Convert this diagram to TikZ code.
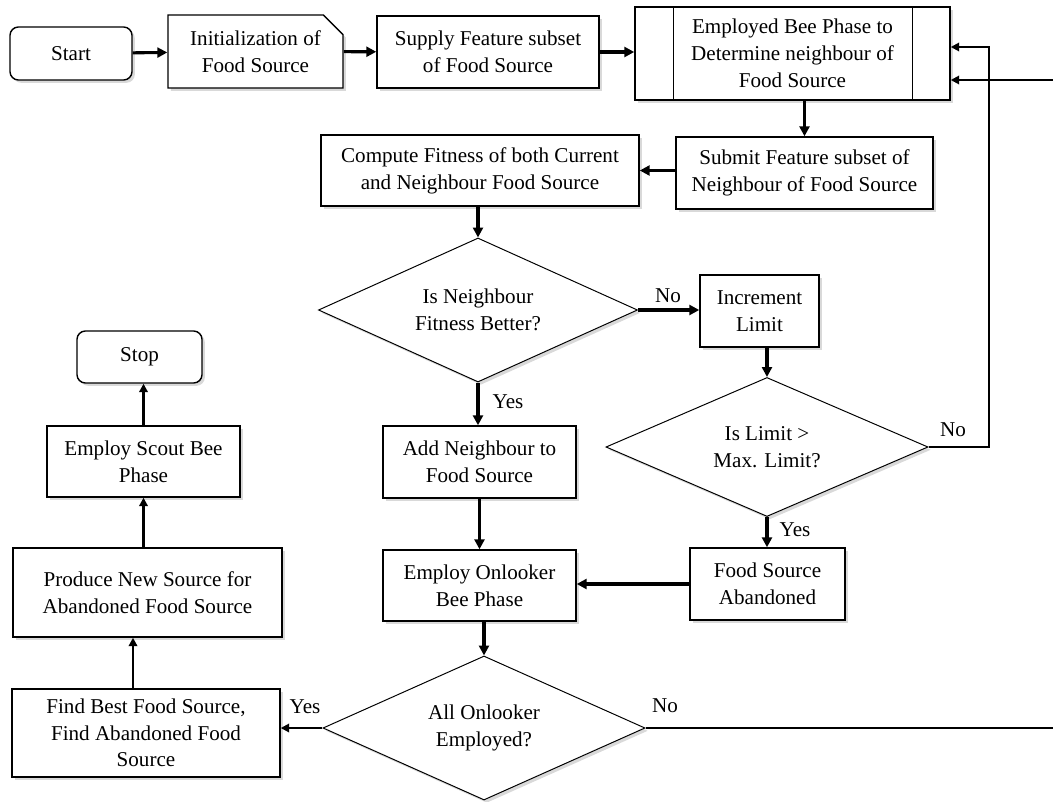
\documentclass[tikz,border=0pt]{standalone}
\usepackage{fontspec}
\setmainfont{Liberation Serif}
\usetikzlibrary{arrows.meta,shapes.geometric,shapes.misc,shadows,calc}

\begin{document}
\begin{tikzpicture}[x = 0.025cm, y = -0.025cm,
	font = \fontsize{15}{19}\selectfont,
	shade/.style = {drop shadow = {opacity = 0.3, shadow xshift = 2pt, shadow yshift = -2pt}},
	box/.style = {draw, line width = 1pt, fill = white, align = center, inner sep = 2pt, shade},
	term/.style = {box, rounded corners = 6pt},
	dec/.style = {draw, diamond, shape aspect = 2.2, line width = 0.7pt, fill = white, align = center, inner sep = 0pt, shade},
	arr/.style = {-{Triangle[length = 7pt, width = 7pt]}, line width = 2.2pt},
	larr/.style = {-{Triangle[length = 6pt, width = 6pt]}, line width = 1.5pt},
	back/.style = {-{Triangle[length = 6pt, width = 6pt]}, line width = 1.4pt}]
	\useasboundingbox (0,0) rectangle (1053,802);
	
	% top row
	\node[term, minimum width = 3.05cm, minimum height = 1.325cm](start) at (71,53.5) {Start};
	\node[box, chamfered rectangle, chamfered rectangle corners = north east,
		chamfered rectangle xsep = 7pt, chamfered rectangle ysep = 7pt,
		minimum width = 4.375cm, minimum height = 1.825cm](init) at (255.5,51.5) {Initialization of\\Food Source};
	\node[box, minimum width = 5.55cm, minimum height = 1.8cm](sup) at (488,52) {Supply Feature subset\\of Food Source};
	\node[box, minimum width = 7.875cm, minimum height = 2.325cm](emp) at (792.5,53.5) {Employed Bee Phase to\\Determine neighbour of\\Food Source};
	\draw[line width = 1pt] ($(emp.north west)+(39,0)$) -- ($(emp.south west)+(39,0)$);
	\draw[line width = 1pt] ($(emp.north east)+(-38,0)$) -- ($(emp.south east)+(-38,0)$);
	
	\node[box, minimum width = 6.425cm, minimum height = 1.8cm](sub) at (804.5,173) {Submit Feature subset of\\Neighbour of Food Source};
	\node[box, minimum width = 7.95cm, minimum height = 1.775cm](comp) at (480,170.5) {Compute Fitness of both Current\\and Neighbour Food Source};
	
	% middle
	\node[dec, minimum width = 7.975cm, minimum height = 3.6cm](better) at (478,310) {Is Neighbour\\Fitness Better?};
	\node[box, minimum width = 2.975cm, minimum height = 1.8cm](inc) at (759.5,311) {Increment\\Limit};
	\node[dec, minimum width = 8.05cm, minimum height = 3.475cm](limit) at (767,447) {Is Limit >\\Max. Limit?};
	\node[box, minimum width = 3.875cm, minimum height = 1.8cm](aband) at (767.5,584) {Food Source\\Abandoned};
	\node[box, minimum width = 4.825cm, minimum height = 1.8cm](add) at (479.5,462) {Add Neighbour to\\Food Source};
	\node[box, minimum width = 4.825cm, minimum height = 1.775cm](onl) at (479.5,585.5) {Employ Onlooker\\Bee Phase};
	\node[dec, minimum width = 8.05cm, minimum height = 3.6cm](all) at (484,728) {All Onlooker\\Employed?};
	
	% left column
	\node[box, minimum width = 6.7cm, minimum height = 2.2cm](find) at (146,733) {Find Best Food Source,\\Find Abandoned Food\\Source};
	\node[box, minimum width = 6.725cm, minimum height = 2.225cm](prod) at (147.5,592.5) {Produce New Source for\\Abandoned Food Source};
	\node[box, minimum width = 4.825cm, minimum height = 1.775cm](scout) at (143.5,461.5) {Employ Scout Bee\\Phase};
	\node[term, minimum width = 3.125cm, minimum height = 1.3cm](stop) at (139.5,357) {Stop};
	
	% labels
	\node[](no1) at (668,296) {No};
	\node[](yes1) at (508,402) {Yes};
	\node[](no2) at (953,430) {No};
	\node[](yes2) at (795,530) {Yes};
	\node[](yes3) at (305,707) {Yes};
	\node[](no3) at (665,706) {No};
	
	\coordinate[](rl) at (989,47);
	\coordinate[](rr) at (1062,80);
	
	\draw[arr] (start) -- (init);
	\draw[arr] (init) -- (sup);
	\draw[arr] (sup) -- (sup -| emp.west);
	\draw[arr] (emp.south -| sub.north) -- (sub.north);
	\draw[arr] (sub.west |- comp.east) -- (comp.east);
	\draw[arr] (comp.south -| better.north) -- (better.north);
	\draw[arr] (better.east) -- (inc.west |- better.east);
	\draw[arr] (inc.south -| limit.north) -- (limit.north);
	\draw[arr] (limit.south) -- (limit.south |- aband.north);
	\draw[arr] (aband.west) -- (onl.east |- aband.west);
	\draw[arr] (better.south) -- (better.south |- add.north);
	\draw[arr] (add) -- (onl);
	\draw[arr] (onl.south -| all.north) -- (all.north);
	\draw[back] (limit.east) -| (rl) -- (rl -| emp.east);
	\draw[back] (all.east) -- (all.east -| rr) -- (rr) -- (rr -| emp.east);
	\draw[back] (all.west) -- (all.west -| find.east);
	\draw[larr] ($(find.north)+(-13,0)$) -- ($(prod.south)+(-14.5,0)$);
	\draw[larr] (prod.north -| scout.north) -- (scout.south);
	\draw[larr] (scout.north) -- (scout.north |- stop.south);
	
\end{tikzpicture}
\end{document}
